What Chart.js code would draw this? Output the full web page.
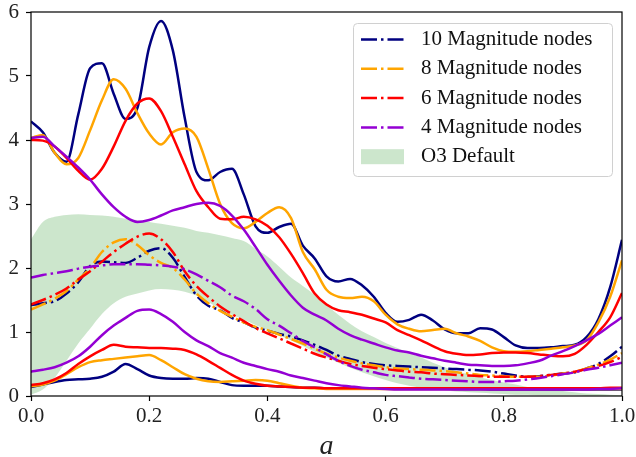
<!DOCTYPE html>
<html>
<head>
<meta charset="utf-8">
<title>Magnitude nodes</title>
<script src="https://cdn.jsdelivr.net/npm/chart.js@4.4.1/dist/chart.umd.min.js"></script>
<style>
  html, body { margin: 0; padding: 0; background: #fff; }
  #wrap { width: 636px; height: 457px; }
</style>
</head>
<body>
<div id="wrap"><canvas id="myChart" width="636" height="457"></canvas></div>
<script>
// sample positions along a
const xs = [
  0.00, 0.02, 0.04, 0.06, 0.08, 0.10, 0.12, 0.14, 0.16, 0.18,
  0.20, 0.22, 0.24, 0.26, 0.28, 0.30, 0.32, 0.34, 0.36, 0.38,
  0.40, 0.42, 0.44, 0.46, 0.48, 0.50, 0.52, 0.54, 0.56, 0.58,
  0.60, 0.62, 0.64, 0.66, 0.68, 0.70, 0.72, 0.74, 0.76, 0.78,
  0.80, 0.82, 0.84, 0.86, 0.88, 0.90, 0.92, 0.94, 0.96, 0.98, 1.00,
];

// 10 nodes: upper, middle (dash-dot), lower
const tenHigh = [
  4.29, 4.12, 3.8, 3.66, 4.4, 5.12, 5.2, 4.72, 4.33, 4.5,
  5.45, 5.86, 5.4, 4.35, 3.5, 3.37, 3.5, 3.55, 3.15, 2.65,
  2.55, 2.64, 2.69, 2.35, 2.15, 1.87, 1.79, 1.83, 1.73, 1.55,
  1.3, 1.16, 1.19, 1.27, 1.18, 1.04, 0.98, 0.98, 1.06, 1.04,
  0.92, 0.79, 0.75, 0.75, 0.76, 0.78, 0.8, 0.92, 1.2, 1.7, 2.44,
];
const tenMid = [
  1.42, 1.45, 1.48, 1.6, 1.78, 2.03, 2.1, 2.09, 2.08, 2.16,
  2.27, 2.31, 2.16, 1.86, 1.57, 1.41, 1.34, 1.22, 1.15, 1.07,
  1.02, 0.97, 0.93, 0.87, 0.8, 0.72, 0.63, 0.58, 0.53, 0.5,
  0.48, 0.47, 0.46, 0.45, 0.44, 0.43, 0.42, 0.41, 0.4, 0.38,
  0.35, 0.32, 0.3, 0.31, 0.33, 0.35, 0.37, 0.43, 0.5, 0.62, 0.77,
];
const tenLow = [
  0.14, 0.18, 0.22, 0.25, 0.26, 0.27, 0.3, 0.38, 0.5, 0.42,
  0.32, 0.28, 0.27, 0.27, 0.28, 0.27, 0.22, 0.17, 0.16, 0.16,
  0.16, 0.15, 0.14, 0.13, 0.13, 0.12, 0.12, 0.12, 0.12, 0.12,
  0.12, 0.12, 0.12, 0.12, 0.12, 0.12, 0.11, 0.11, 0.11, 0.1,
  0.1, 0.1, 0.1, 0.1, 0.1, 0.1, 0.1, 0.1, 0.1, 0.1, 0.1,
];

// 8 nodes
const eightHigh = [
  4.03, 4.08, 3.8, 3.62, 3.72, 4.15, 4.62, 4.95, 4.8, 4.42,
  4.1, 3.93, 4.12, 4.18, 4.05, 3.55, 3.0, 2.7, 2.62, 2.72,
  2.86, 2.95, 2.78, 2.25, 1.98, 1.66, 1.55, 1.53, 1.55, 1.48,
  1.27, 1.12, 1.05, 1.01, 1.03, 1.05, 0.98, 0.93, 0.86, 0.76,
  0.7, 0.69, 0.7, 0.72, 0.74, 0.76, 0.79, 0.87, 1.15, 1.55, 2.12,
];
const eightMid = [
  1.35, 1.43, 1.52, 1.64, 1.82, 2.0, 2.25, 2.4, 2.45, 2.36,
  2.2, 2.08, 2.0, 1.82, 1.6, 1.45, 1.33, 1.24, 1.15, 1.08,
  1.03, 0.96, 0.89, 0.82, 0.74, 0.66, 0.6, 0.55, 0.51, 0.48,
  0.45, 0.43, 0.42, 0.41, 0.4, 0.39, 0.37, 0.35, 0.33, 0.32,
  0.31, 0.3, 0.3, 0.3, 0.32, 0.35, 0.38, 0.43, 0.49, 0.57, 0.67,
];
const eightLow = [
  0.15, 0.18, 0.24, 0.34, 0.45, 0.53, 0.56, 0.58, 0.6, 0.62,
  0.64, 0.56, 0.45, 0.34, 0.27, 0.23, 0.22, 0.23, 0.24, 0.25,
  0.24, 0.2, 0.16, 0.13, 0.12, 0.11, 0.11, 0.11, 0.11, 0.11,
  0.11, 0.11, 0.11, 0.11, 0.11, 0.11, 0.11, 0.11, 0.11, 0.11,
  0.11, 0.11, 0.11, 0.11, 0.11, 0.11, 0.11, 0.11, 0.11, 0.11, 0.11,
];

// 6 nodes
const sixHigh = [
  4.0, 3.99, 3.9, 3.72, 3.52, 3.38, 3.55, 3.9, 4.3, 4.57,
  4.65, 4.45, 4.05, 3.62, 3.2, 2.95, 2.77, 2.76, 2.8, 2.76,
  2.66, 2.48, 2.22, 1.92, 1.6, 1.43, 1.34, 1.31, 1.27, 1.21,
  1.15, 1.03, 0.95, 0.87, 0.78, 0.7, 0.66, 0.64, 0.65, 0.67,
  0.68, 0.68, 0.67, 0.65, 0.63, 0.62, 0.66, 0.8, 1.0, 1.23, 1.61,
];
const sixMid = [
  1.43, 1.5, 1.58, 1.68, 1.82, 1.95, 2.1, 2.25, 2.38, 2.49,
  2.54, 2.45, 2.25, 1.95, 1.72, 1.55, 1.4, 1.28, 1.17, 1.06,
  0.98, 0.9, 0.82, 0.74, 0.66, 0.6, 0.55, 0.5, 0.47, 0.44,
  0.42, 0.4, 0.38, 0.37, 0.35, 0.34, 0.33, 0.32, 0.31, 0.3,
  0.3, 0.3, 0.3, 0.31, 0.33, 0.35, 0.38, 0.42, 0.47, 0.53, 0.61,
];
const sixLow = [
  0.17, 0.2, 0.26, 0.36, 0.5, 0.62, 0.72, 0.8, 0.77, 0.76,
  0.75, 0.75, 0.74, 0.72, 0.65, 0.55, 0.44, 0.33, 0.24, 0.19,
  0.16, 0.15, 0.14, 0.13, 0.13, 0.12, 0.12, 0.12, 0.12, 0.12,
  0.12, 0.12, 0.12, 0.12, 0.12, 0.12, 0.12, 0.12, 0.12, 0.12,
  0.12, 0.12, 0.12, 0.12, 0.12, 0.12, 0.12, 0.12, 0.12, 0.13, 0.13,
];

// 4 nodes
const fourHigh = [
  4.03, 4.05, 3.9, 3.74, 3.57, 3.38, 3.15, 2.95, 2.8, 2.72,
  2.75, 2.82, 2.9, 2.95, 3.0, 3.02, 2.97, 2.82, 2.6, 2.33,
  2.05, 1.8, 1.57, 1.38, 1.27, 1.18, 1.05, 0.95, 0.88, 0.82,
  0.76, 0.71, 0.68, 0.63, 0.59, 0.55, 0.52, 0.49, 0.48, 0.47,
  0.47, 0.48, 0.51, 0.55, 0.63, 0.7, 0.78, 0.87, 0.97, 1.1, 1.23,
];
const fourMid = [
  1.85, 1.89, 1.92, 1.95, 1.99, 2.02, 2.04, 2.06, 2.06, 2.06,
  2.05, 2.04, 2.02, 1.98, 1.9, 1.8, 1.7, 1.57, 1.48, 1.36,
  1.2, 1.1, 0.98, 0.86, 0.76, 0.65, 0.55, 0.47, 0.41, 0.37,
  0.33, 0.31, 0.29, 0.27, 0.26, 0.25, 0.24, 0.23, 0.22, 0.22,
  0.23, 0.24, 0.26, 0.28, 0.31, 0.34, 0.37, 0.41, 0.44, 0.48, 0.52,
];
const fourLow = [
  0.38, 0.41, 0.45, 0.52, 0.62, 0.77, 0.95, 1.1, 1.22, 1.33,
  1.35, 1.28, 1.16, 1.0, 0.87, 0.78, 0.67, 0.6, 0.52, 0.47,
  0.42, 0.38, 0.32, 0.28, 0.24, 0.2, 0.17, 0.15, 0.13, 0.12,
  0.11, 0.1, 0.1, 0.1, 0.1, 0.1, 0.1, 0.1, 0.1, 0.1,
  0.1, 0.1, 0.1, 0.1, 0.1, 0.1, 0.1, 0.1, 0.11, 0.11, 0.12,
];

// O3 default band
const o3Upper = [
  2.45, 2.72, 2.8, 2.83, 2.84, 2.83, 2.82, 2.8, 2.77, 2.75,
  2.72, 2.69, 2.66, 2.63, 2.58, 2.55, 2.51, 2.47, 2.42, 2.3,
  2.18, 2.02, 1.85, 1.72, 1.58, 1.42, 1.27, 1.13, 1.01, 0.92,
  0.83, 0.75, 0.67, 0.6, 0.52, 0.45, 0.39, 0.34, 0.29, 0.25,
  0.21, 0.18, 0.14, 0.12, 0.1, 0.08, 0.06, 0.04, 0.03, 0.02, 0.01,
];
const o3Lower = [
  0.02, 0.1, 0.28, 0.55, 0.82, 1.05, 1.28, 1.45, 1.55, 1.6,
  1.65, 1.67, 1.66, 1.63, 1.57, 1.47, 1.36, 1.27, 1.19, 1.11,
  1.03, 0.95, 0.87, 0.78, 0.69, 0.6, 0.52, 0.44, 0.37, 0.31,
  0.25, 0.2, 0.16, 0.13, 0.11, 0.09, 0.07, 0.06, 0.05, 0.04,
  0.03, 0.02, 0.02, 0.01, 0.01, 0.01, 0.01, 0.0, 0.0, 0.0, 0.0,
];

const xTicks = [0, 0.2, 0.4, 0.6, 0.8, 1.0];
const yTicks = [0, 1, 2, 3, 4, 5, 6];

const models = [
  { label: "10 Magnitude nodes", color: "#000080", high: tenHigh, mid: tenMid, low: tenLow },
  { label: "8 Magnitude nodes", color: "#ffa500", high: eightHigh, mid: eightMid, low: eightLow },
  { label: "6 Magnitude nodes", color: "#ff0000", high: sixHigh, mid: sixMid, low: sixLow },
  { label: "4 Magnitude nodes", color: "#9400d3", high: fourHigh, mid: fourMid, low: fourLow },
];
const bandLabel = "O3 Default";
const bandColor = "rgba(0, 128, 0, 0.2)";

const FONT = "'Liberation Serif', 'Times New Roman', serif";
const DASHDOT = [16, 4, 2.5, 4];

const toPoints = (ys) => xs.map((x, i) => ({ x: x, y: ys[i] }));

const lineSet = (ys, color, dash, order) => ({
  data: toPoints(ys),
  borderColor: color,
  borderWidth: 2.5,
  borderDash: dash,
  pointRadius: 0,
  fill: false,
  cubicInterpolationMode: "monotone",
  order: order,
});

let datasets = [];
models.forEach((m, k) => {
  datasets.push(lineSet(m.high, m.color, [], 10 - k));
  datasets.push(lineSet(m.mid, m.color, DASHDOT, 10 - k));
  datasets.push(lineSet(m.low, m.color, [], 10 - k));
});
// band: lower edge first, upper edge fills down to it
const lowerIndex = datasets.length;
datasets.push({
  data: toPoints(o3Lower),
  borderWidth: 0,
  pointRadius: 0,
  fill: false,
  cubicInterpolationMode: "monotone",
  order: 50,
});
datasets.push({
  data: toPoints(o3Upper),
  borderWidth: 0,
  pointRadius: 0,
  backgroundColor: bandColor,
  fill: { target: lowerIndex },
  cubicInterpolationMode: "monotone",
  order: 51,
});

// full box around the plot area
const frame = {
  id: "frame",
  afterDatasetsDraw(chart) {
    const { ctx, chartArea: a } = chart;
    ctx.save();
    ctx.strokeStyle = "#000";
    ctx.lineWidth = 1.2;
    ctx.strokeRect(a.left, a.top, a.right - a.left, a.bottom - a.top);
    ctx.restore();
  },
};

// boxed legend in the upper right corner
const boxLegend = {
  id: "boxLegend",
  afterDraw(chart) {
    const ctx = chart.ctx;
    const left = 353, top = 23, w = 259, h = 153, r = 4;
    ctx.save();
    ctx.beginPath();
    ctx.roundRect(left + 0.5, top + 0.5, w, h, r);
    ctx.fillStyle = "rgba(255,255,255,0.8)";
    ctx.fill();
    ctx.strokeStyle = "#d0d0d0";
    ctx.lineWidth = 1;
    ctx.stroke();

    const rows = models.map((m) => ({ label: m.label, color: m.color, band: false }));
    rows.push({ label: bandLabel, color: bandColor, band: true });

    ctx.font = "21px " + FONT;
    ctx.textBaseline = "middle";
    ctx.textAlign = "left";
    rows.forEach((row, i) => {
      const y = 39.5 + i * 29.3;
      if (row.band) {
        ctx.fillStyle = row.color;
        ctx.fillRect(361, y - 7.5, 43, 15);
      } else {
        ctx.beginPath();
        ctx.setLineDash(DASHDOT);
        ctx.lineWidth = 2.5;
        ctx.strokeStyle = row.color;
        ctx.moveTo(361, y);
        ctx.lineTo(404, y);
        ctx.stroke();
        ctx.setLineDash([]);
      }
      ctx.fillStyle = "#111";
      ctx.fillText(row.label, 421, y);
    });
    ctx.restore();
  },
};

const chart = new Chart(document.getElementById("myChart"), {
  type: "line",
  data: { datasets: datasets },
  plugins: [frame, boxLegend],
  options: {
    responsive: false,
    animation: false,
    devicePixelRatio: 1,
    layout: { padding: { top: 12, right: 14, left: 0, bottom: 0 } },
    plugins: {
      legend: { display: false },
      tooltip: { enabled: false },
    },
    scales: {
      x: {
        type: "linear",
        min: 0,
        max: 1,
        afterFit: (scale) => {
          scale.height = 61;
          scale.paddingLeft = 0;
          scale.paddingRight = 0;
        },
        afterBuildTicks: (scale) => { scale.ticks = xTicks.map((v) => ({ value: v })); },
        ticks: {
          callback: (v) => v.toFixed(1),
          color: "#222",
          padding: 3,
          maxRotation: 0,
          font: { family: FONT, size: 21 },
        },
        grid: { drawOnChartArea: false, drawTicks: true, tickLength: 5, tickColor: "#000", tickWidth: 1.2 },
        border: { display: false },
        title: {
          display: true,
          text: "a",
          color: "#222",
          padding: { top: 0, bottom: 0 },
          font: { family: FONT, size: 28, style: "italic", lineHeight: 0.72 },
        },
      },
      y: {
        min: 0,
        max: 6,
        afterFit: (scale) => {
          scale.width = 31;
          scale.paddingTop = 0;
          scale.paddingBottom = 0;
        },
        afterBuildTicks: (scale) => { scale.ticks = yTicks.map((v) => ({ value: v })); },
        ticks: {
          color: "#222",
          padding: 7,
          font: { family: FONT, size: 21 },
        },
        grid: { drawOnChartArea: false, drawTicks: true, tickLength: 5, tickColor: "#000", tickWidth: 1.2 },
        border: { display: false },
      },
    },
  },
});
</script>
</body>
</html>
